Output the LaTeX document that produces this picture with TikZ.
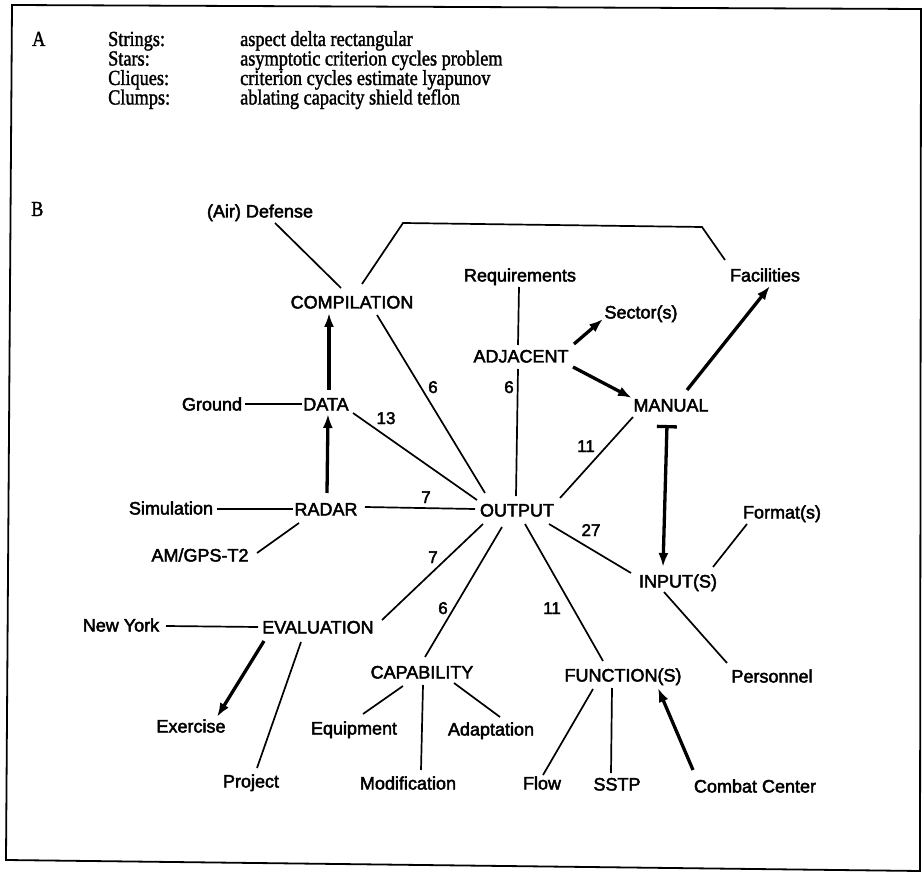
\documentclass[tikz,border=0pt]{standalone}
\usepackage{fontspec}
\setmainfont[FakeStretch=0.85,FakeBold=1.5]{Liberation Serif}
\newfontfamily\labfont[FakeBold=2.5]{Liberation Sans}
\usetikzlibrary{calc,arrows.meta}
\begin{document}
\begin{tikzpicture}[x=1pt,y=-1pt,
  lbl/.style={font=\labfont\fontsize{18}{18}\selectfont, inner sep=0pt, text height=13pt, text depth=0pt},
  num/.style={font=\labfont\fontsize{17}{17}\selectfont, inner sep=0pt, text height=12pt, text depth=0pt},
  ser/.style={font=\fontsize{21.5}{21.5}\selectfont, inner sep=0pt, anchor=base west},
  thinline/.style={line width=1.7pt},
  thickarrow/.style={line width=3.3pt, -{Latex[length=14pt,width=10pt]}},
]
\useasboundingbox (0,0) rectangle (924,877);
\draw[line width=1.8pt] (12,5) -- (921,9) -- (920,871) -- (6,860) -- cycle;

% Part A
\node[ser] (A) at (32,46) {A};
\node[ser] (s1) at (108,46) {Strings:};
\node[ser] (v1) at (240,46) {aspect delta rectangular};
\node[ser] (s2) at (108,65.5) {Stars:};
\node[ser] (v2) at (240,65.5) {asymptotic criterion cycles problem};
\node[ser] (s3) at (108,85) {Cliques:};
\node[ser] (v3) at (240,85) {criterion cycles estimate lyapunov};
\node[ser] (s4) at (108,104.5) {Clumps:};
\node[ser] (v4) at (240,104.5) {ablating capacity shield teflon};

% Part B
\node[ser] (B) at (31,216) {B};

\node[lbl] (airdef) at (260,211) {(Air) Defense};
\node[lbl] (comp) at (352,302) {COMPILATION};
\node[lbl] (req) at (520,275) {Requirements};
\node[lbl] (fac) at (765,275) {Facilities};
\node[lbl] (sector) at (641,312) {Sector(s)};
\node[lbl] (adj) at (521,356) {ADJACENT};
\node[lbl] (manual) at (671,405) {MANUAL};
\node[lbl] (ground) at (212,404) {Ground};
\node[lbl] (data) at (326,404) {DATA};
\node[lbl] (sim) at (171,508) {Simulation};
\node[lbl] (radar) at (326,509) {RADAR};
\node[lbl] (output) at (517,510) {OUTPUT};
\node[lbl] (format) at (782,512) {Format(s)};
\node[lbl] (amgps) at (200,555) {AM/GPS-T2};
\node[lbl] (input) at (678,581) {INPUT(S)};
\node[lbl] (ny) at (121,625) {New York};
\node[lbl] (eval) at (318,627) {EVALUATION};
\node[lbl] (cap) at (422,672) {CAPABILITY};
\node[lbl] (func) at (623,675) {FUNCTION(S)};
\node[lbl] (pers) at (772,676) {Personnel};
\node[lbl] (exer) at (191,726) {Exercise};
\node[lbl] (equip) at (354,728) {Equipment};
\node[lbl] (adapt) at (491,729) {Adaptation};
\node[lbl] (proj) at (251,781) {Project};
\node[lbl] (modif) at (408,783) {Modification};
\node[lbl] (flow) at (542,783) {Flow};
\node[lbl] (sstp) at (617,784) {SSTP};
\node[lbl] (combat) at (755,786) {Combat Center};

% numbers
\node[num] (n1) at (433,387) {6};
\node[num] (n2) at (386,418) {13};
\node[num] (n3) at (426,497) {7};
\node[num] (n4) at (433,557) {7};
\node[num] (n5) at (443,608) {6};
\node[num] (n6) at (552,608) {11};
\node[num] (n7) at (591,530) {27};
\node[num] (n8) at (586,446) {11};
\node[num] (n9) at (509,387) {6};

\coordinate (b1) at (403,223);
\coordinate (b2) at (702,227);

% thin lines
\draw[thinline] ($(airdef)+(15,12)$) -- ($(comp)+(-11,-14)$);
\draw[thinline] ($(comp)+(10,-18)$) -- (b1) -- (b2) -- ($(fac)+(-40,-15)$);
\draw[thinline] ($(comp)+(25,13)$) -- ($(output)+(-32,-17)$);
\draw[thinline] ($(ground)+(33,0)$) -- ($(data)+(-24,0)$);
\draw[thinline] ($(data)+(27,9)$) -- ($(output)+(-40,-10)$);
\draw[thinline] ($(sim)+(46,1)$) -- ($(radar)+(-33,0)$);
\draw[thinline] ($(radar)+(39,-2)$) -- ($(output)+(-42,-1)$);
\draw[thinline] ($(radar)+(-27,14)$) -- ($(amgps)+(57,-2)$);
\draw[thinline] ($(output)+(-34,14)$) -- ($(eval)+(64,-7)$);
\draw[thinline] ($(ny)+(45,1)$) -- ($(eval)+(-60,0)$);
\draw[thinline] ($(eval)+(-17,15)$) -- ($(proj)+(6,-13)$);
\draw[thinline] ($(output)+(-15,17)$) -- ($(cap)+(3,-15)$);
\draw[thinline] ($(cap)+(-19,14)$) -- ($(equip)+(9,-14)$);
\draw[thinline] ($(cap)+(1,13)$) -- ($(modif)+(13,-13)$);
\draw[thinline] ($(cap)+(32,11)$) -- ($(adapt)+(9,-12)$);
\draw[thinline] ($(output)+(8,14)$) -- ($(func)+(-20,-14)$);
\draw[thinline] ($(func)+(-30,14)$) -- ($(flow)+(1,-8)$);
\draw[thinline] ($(func)+(-11,13)$) -- ($(sstp)+(-6,-11)$);
\draw[thinline] ($(output)+(32,14)$) -- ($(input)+(-47,-8)$);
\draw[thinline] ($(input)+(35,-14)$) -- ($(format)+(-35,12)$);
\draw[thinline] ($(input)+(-14,11)$) -- ($(pers)+(-45,-13)$);
\draw[thinline] ($(output)+(43,-12)$) -- ($(manual)+(-38,12)$);
\draw[thinline] ($(req)+(-1,12)$) -- ($(adj)+(-3,-11)$);
\draw[thinline] ($(adj)+(-3,13)$) -- ($(output)+(-1,-14)$);

% thick arrows
\draw[thickarrow] ($(data)+(3,-14)$) -- ($(comp)+(-23,11)$);
\draw[thickarrow] ($(radar)+(1,-16)$) -- ($(data)+(2,10)$);
\draw[thickarrow] ($(eval)+(-54,14)$) -- ($(exer)+(26,-9)$);
\draw[thickarrow] ($(combat)+(-62,-16)$) -- ($(func)+(35,13)$);
\draw[thickarrow, {Bar[width=20pt]}-{Latex[length=14pt,width=10pt]}] ($(manual)+(-4,20)$) -- ($(input)+(-15,-14)$);
\draw[thickarrow] ($(adj)+(53,-12)$) -- ($(sector)+(-38,7)$);
\draw[thickarrow] ($(adj)+(52,11)$) -- ($(manual)+(-39,-7)$);
\draw[thickarrow] ($(manual)+(16,-15)$) -- ($(fac)+(5,11)$);
\end{tikzpicture}
\end{document}
